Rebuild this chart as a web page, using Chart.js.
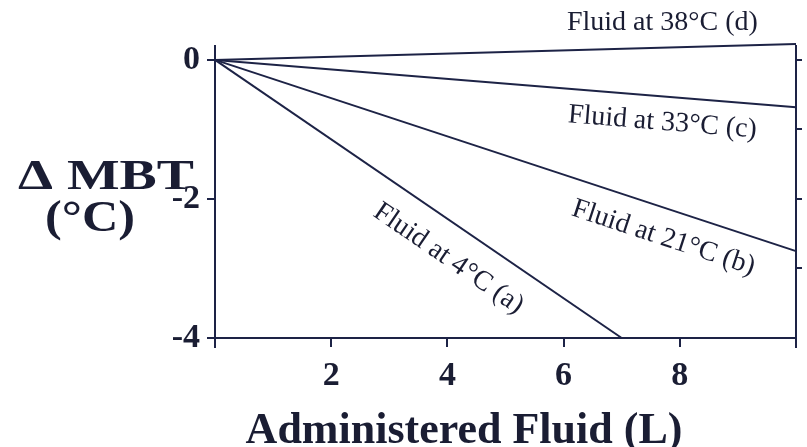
<!DOCTYPE html>
<html>
<head>
<meta charset="utf-8">
<script src="https://cdn.jsdelivr.net/npm/chart.js@4"></script>
<style>
  html, body { margin: 0; padding: 0; background: #ffffff; }
  canvas { display: block; }
</style>
</head>
<body>
<canvas id="chart" width="807" height="447"></canvas>
<script>
// Change in mean body temperature vs. volume of administered fluid
const seriesLabels = ['Fluid at 4°C (a)', 'Fluid at 21°C (b)', 'Fluid at 33°C (c)', 'Fluid at 38°C (d)'];
const volumeA = [0, 7];   const mbtA = [0, -4];
const volumeB = [0, 10];  const mbtB = [0, -2.75];
const volumeC = [0, 10];  const mbtC = [0, -0.68];
const volumeD = [0, 10];  const mbtD = [0, 0.23];

const xTickValues = [2, 4, 6, 8];
const yTickValuesLeft = [0, -2, -4];
const yTickValuesRight = [0, -1, -2, -3];

const INK = '#1d2346';
const TEXT = '#1a1d33';

// where each line label sits (data units) and whether it follows its line's slope
const labelSpots = [
  { x: 4.02, y: -2.86, follow: true },
  { x: 7.72, y: -2.56, follow: true },
  { x: 7.70, y: -0.90, follow: true },
  { x: 7.70, y: 0.53, follow: false }
];

const toPoints = (xs, ys) => xs.map((v, i) => ({ x: v, y: ys[i] }));
const seriesPoints = [
  toPoints(volumeA, mbtA),
  toPoints(volumeB, mbtB),
  toPoints(volumeC, mbtC),
  toPoints(volumeD, mbtD)
];

// draw text centred at cx, stretched horizontally to a given width
function drawWide(ctx, text, cx, baseline, width) {
  const w = ctx.measureText(text).width;
  ctx.save();
  ctx.translate(cx, baseline);
  ctx.scale(width / w, 1);
  ctx.fillText(text, 0, 0);
  ctx.restore();
}

const annotations = {
  id: 'annotations',
  afterDraw(chart) {
    const ctx = chart.ctx;
    const xs = chart.scales.x, ys = chart.scales.y;
    const area = chart.chartArea;
    ctx.save();

    // axis lines run a little past the bottom axis
    ctx.strokeStyle = INK;
    ctx.lineWidth = 2;
    ctx.beginPath();
    ctx.moveTo(area.left, area.bottom);
    ctx.lineTo(area.left, area.bottom + 10);
    ctx.moveTo(area.right, area.bottom);
    ctx.lineTo(area.right, area.bottom + 10);
    ctx.stroke();

    // line labels
    ctx.fillStyle = TEXT;
    ctx.font = '28px "Liberation Serif", serif';
    ctx.textAlign = 'center';
    ctx.textBaseline = 'middle';
    seriesPoints.forEach((pts, i) => {
      const spot = labelSpots[i];
      const p0 = pts[0], p1 = pts[pts.length - 1];
      let angle = 0;
      if (spot.follow) {
        angle = Math.atan2(ys.getPixelForValue(p1.y) - ys.getPixelForValue(p0.y),
                           xs.getPixelForValue(p1.x) - xs.getPixelForValue(p0.x));
      }
      ctx.save();
      ctx.translate(xs.getPixelForValue(spot.x), ys.getPixelForValue(spot.y));
      ctx.rotate(angle);
      ctx.fillText(seriesLabels[i], 0, 0);
      ctx.restore();
    });

    // axis titles
    ctx.textBaseline = 'alphabetic';
    ctx.font = 'bold 42px "Liberation Serif", serif';
    drawWide(ctx, 'Δ MBT', 106, 189, 176);
    ctx.font = 'bold 44px "Liberation Serif", serif';
    drawWide(ctx, '(°C)', 90, 231, 90);
    ctx.font = 'bold 44px "Liberation Serif", serif';
    ctx.fillText('Administered Fluid (L)', 464, 443);
    ctx.restore();
  }
};

new Chart(document.getElementById('chart'), {
  type: 'scatter',
  data: {
    datasets: seriesPoints.map((pts, i) => ({
      label: seriesLabels[i],
      data: pts,
      showLine: true,
      borderColor: INK,
      borderWidth: 2,
      pointRadius: 0,
      clip: false
    }))
  },
  options: {
    responsive: false,
    animation: false,
    devicePixelRatio: 1,
    layout: { padding: { top: 46, right: 0, bottom: 0, left: 0 } },
    plugins: { legend: { display: false }, tooltip: { enabled: false } },
    scales: {
      x: {
        type: 'linear',
        min: 0,
        max: 10,
        afterBuildTicks(scale) { scale.ticks = xTickValues.map(v => ({ value: v })); },
        afterFit(scale) { scale.height = 447 - 338; },
        border: { display: true, color: INK, width: 2 },
        grid: { drawOnChartArea: false, drawTicks: true, tickLength: 9, color: INK, lineWidth: 2 },
        ticks: {
          color: TEXT,
          padding: 9,
          maxRotation: 0,
          font: { family: '"Liberation Serif", serif', size: 34, weight: 'bold' }
        }
      },
      y: {
        type: 'linear',
        position: 'left',
        min: -4,
        max: 0.2,
        afterBuildTicks(scale) { scale.ticks = yTickValuesLeft.map(v => ({ value: v })); },
        afterFit(scale) { scale.width = 215; },
        border: { display: true, color: INK, width: 2 },
        grid: { drawOnChartArea: false, drawTicks: true, tickLength: 8, color: INK, lineWidth: 2 },
        ticks: {
          color: TEXT,
          padding: 7,
          font: { family: '"Liberation Serif", serif', size: 34, weight: 'bold' }
        }
      },
      yRight: {
        type: 'linear',
        position: 'right',
        min: -4,
        max: 0.2,
        afterBuildTicks(scale) { scale.ticks = yTickValuesRight.map(v => ({ value: v })); },
        afterFit(scale) { scale.width = 807 - 796; },
        border: { display: true, color: INK, width: 2 },
        grid: { drawOnChartArea: false, drawTicks: true, tickLength: 6, color: INK, lineWidth: 2 },
        ticks: { display: false }
      }
    }
  },
  plugins: [annotations]
});
</script>
</body>
</html>
